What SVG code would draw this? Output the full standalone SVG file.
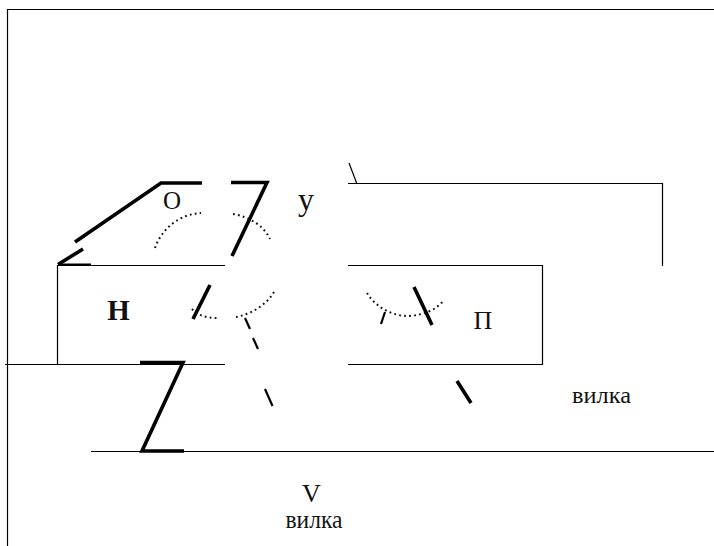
<svg xmlns="http://www.w3.org/2000/svg" width="714" height="546" viewBox="0 0 714 546">
<style>
.t{fill:none;stroke:#000;stroke-width:1.2}
.k{fill:none;stroke:#000;stroke-width:3.6}
.m{fill:none;stroke:#000;stroke-width:2.2}
.d{fill:none;stroke:#111;stroke-width:2;stroke-dasharray:1.8 3.2}
text{font-family:"Liberation Serif",serif;fill:#111}
</style>
<rect width="714" height="546" fill="#fff"/>
<g id="connectors">
<path class="t" d="M7.500 546V9.500H714"/>
<path class="t" d="M57.500 364V265.500H225M348 265.500H542.500V364.500H348M225 364.500H5M91 451.500H714"/>
<path class="t" d="M348 183.500H662.500V266M349 163L357 184"/>
<path class="k" d="M58 264.500L83 249M75 242L161 183H202M231 182.500H267L232 256"/>
<path class="m" d="M58 264.500H91"/>
<path class="k" d="M140 362.500H183L142 451H184"/>
<path class="k" d="M210 285L193 319"/>
<path class="m" d="M245 318L250 329M253 338L258 349M265 389L272.500 406M381 324L385 312"/>
<path class="k" d="M414 287L432 325M457 381L471 403"/>
<path class="d" d="M155 248C162 228 180 214 201 213"/>
<path class="d" d="M233 214C250 217 264 226 270 239"/>
<path class="d" d="M192 309C198 316 208 318 217 318"/>
<path class="d" d="M236 317C252 314 268 304 275 290"/>
<path class="d" d="M367 293C377 309 394 316 408 316C424 315 436 310 443 301"/>
</g>
<g id="label-o"><text x="172" y="208.500" font-size="25" text-anchor="middle">О</text></g>
<g id="label-y"><text x="306" y="209.500" font-size="32" text-anchor="middle">у</text></g>
<g id="label-h"><text x="118.500" y="320" font-size="29" font-weight="bold" text-anchor="middle">Н</text></g>
<g id="label-p"><text x="483" y="328.500" font-size="26" text-anchor="middle">П</text></g>
<g id="label-fork-right"><text x="572" y="403" font-size="23" textLength="59" lengthAdjust="spacingAndGlyphs">вилка</text></g>
<g id="label-v"><text x="311.500" y="501.500" font-size="26" text-anchor="middle">V</text></g>
<g id="label-fork-bottom"><text x="285.500" y="527.500" font-size="25" textLength="57" lengthAdjust="spacingAndGlyphs">вилка</text></g>
</svg>
